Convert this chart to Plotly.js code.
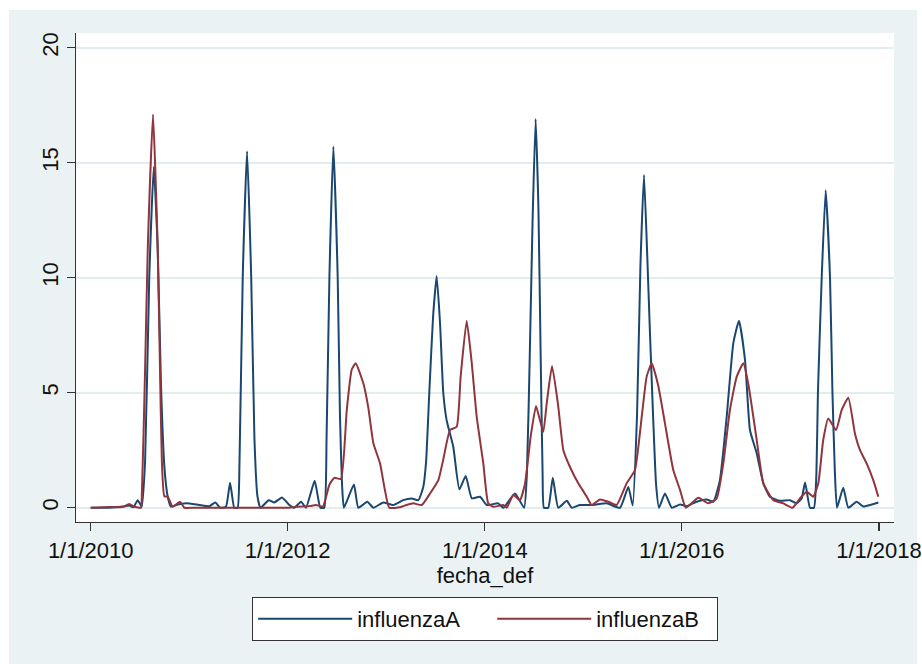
<!DOCTYPE html>
<html>
<head>
<meta charset="utf-8">
<script src="https://cdn.plot.ly/plotly-3.0.1.min.js"></script>
<style>
  html, body { margin: 0; padding: 0; background: #ffffff; }
  #chart { position: absolute; left: 9px; top: 10px; width: 913px; height: 654px; }
</style>
</head>
<body>
<div id="chart"></div>
<script>
// Weeks since 1/1/2010 and values
const weeksA = [0, 9.8, 16.9, 20.4, 22.6, 24.9, 27.0, 28.8, 31.0, 33.4, 35.5, 37.2, 39.0, 40.8, 42.5,
  45.2, 50.5, 57.5, 62.8, 66.0, 68.5, 71.6, 73.8, 76.0, 77.8, 78.8, 80.5, 82.8, 85.0, 86.7, 88.3, 89.9,
  94.3, 97.2, 101.3, 105.2, 107.8, 111.4, 114.0, 118.6, 121.6, 123.7, 124.9, 126.4, 128.5, 130.8, 132.0,
  133.1, 134.1, 139.4, 141.7, 146.5, 149.7, 154.9, 160.2, 165.5, 170.0, 173.5, 176.1, 177.6, 179.3,
  181.3, 183.2, 185.0, 186.7, 188.5, 192.0, 195.2, 198.6, 201.8, 206.2, 209.7, 215.8, 218.5, 224.7,
  229.5, 231.0, 232.6, 234.0, 235.6, 237.1, 238.2, 239.3, 240.0, 242.3, 244.7, 247.6, 252.1, 254.7,
  259.1, 266.2, 273.2, 280.3, 284.7, 287.0, 289.3, 291.1, 293.0, 294.7, 296.2, 297.8, 299.4, 300.9,
  304.1, 307.7, 312.1, 315.6, 320.9, 326.2, 329.7, 333.2, 336.8, 340.3, 343.3, 346.5, 349.1, 352.7,
  356.2, 359.7, 365.0, 370.3, 373.9, 376.5, 378.3, 380.9, 383.0, 384.3, 385.1, 387.1, 389.2, 391.5,
  392.8, 394.1, 395.2, 398.5, 401.2, 405.6, 409.1, 412.7, 417.1];
const influenzaA = [0, 0, 0.05, 0.1, 0.02, 0.33, 0.05, 2, 10, 14.83, 11.2, 5.4, 1.8, 0.48, 0.05,
  0.12, 0.19, 0.12, 0.07, 0.23, 0, 0.04, 1.09, 0, 0, 2, 10, 15.5, 10, 3, 0.5, 0,
  0.33, 0.23, 0.45, 0.12, 0, 0.26, 0, 1.17, 0, 0, 3, 10, 15.7, 10, 4,
  1, 0, 1.01, 0, 0.26, 0, 0.23, 0.12, 0.33, 0.4, 0.33, 0.9, 2, 5,
  8.3, 10.07, 8, 5, 3.8, 2.65, 0.8, 1.38, 0.41, 0.48, 0.12, 0.19, 0, 0.62,
  0, 1.5, 7, 12.5, 16.9, 13, 7, 1.5, 0, 0, 1.3, 0, 0.3, 0,
  0.12, 0.12, 0.19, 0, 0.9, 0.1, 4, 10.5, 14.47, 11, 7.5, 4, 1, 0,
  0.62, 0, 0.14, 0.07, 0.26, 0.36, 0.26, 1.2, 3.96, 7.16, 8.13, 6.42, 3.38, 2.36,
  1.06, 0.48, 0.3, 0.33, 0.19, 0.41, 1.1, 0, 0, 1.5, 5, 10, 13.8, 10,
  5, 1.5, 0, 0.87, 0, 0.26, 0.05, 0.12, 0.23];

const weeksB = [0, 9.8, 16.9, 20.4, 23.1, 26.6, 27.0, 28.8, 30.2, 33.0, 35.5, 36.7, 37.7, 39.0, 40.8,
  43.4, 47.3, 49.6, 55.0, 100.0, 105.0, 108.7, 115.8, 119.3, 122.9, 126.4, 129.0, 132.5, 135.6, 138.2, 140.3,
  144.4, 147.0, 149.7, 153.2, 155.8, 158.1, 163.8, 165.5, 170.8, 175.3, 179.7, 184.1, 186.7, 190.3,
  193.8, 195.9, 199.1, 201.8, 204.4, 207.9, 210.5, 213.2, 218.5, 220.3, 223.8, 227.3, 230.0, 233.0,
  235.8, 237.9, 239.7, 241.5, 244.3, 247.6, 250.3, 253.8, 258.2, 262.7, 265.3, 269.7, 274.1, 278.5,
  283.8, 288.2, 291.8, 294.4, 297.1, 300.6, 304.1, 308.5, 312.1, 315.2, 321.8, 327.0, 331.5, 335.0,
  338.5, 342.1, 345.6, 348.2, 352.7, 356.2, 361.5, 366.8, 371.7, 375.6, 379.2, 382.6, 385.3, 387.9,
  390.6, 394.7, 397.7, 401.2, 404.7, 407.4, 410.9, 414.4, 417.1];
const influenzaB = [0, 0.03, 0.03, 0.16, 0.04, 0, 0.3, 6, 11.2, 17.1, 11.2, 6, 2.0, 0.5, 0.48,
  0.04, 0.26, 0, 0, 0, 0, 0.04, 0.07, 0.12, 0.05, 1.0, 1.3, 1.25, 4.25, 6.0, 6.28,
  5.4, 4.35, 2.8, 1.93, 0.77, 0, 0.02, 0.07, 0.19, 0.12, 0.62, 1.2, 2.1, 3.38,
  3.52, 5.7, 8.13, 6.28, 3.96, 1.93, 0.19, 0.04, 0.12, 0, 0.55, 0.33, 1.06, 3.1,
  4.42, 3.8, 3.3, 4.55, 6.16, 4.4, 2.5, 1.77, 1.06, 0.48, 0.12, 0.36, 0.26, 0.12,
  1.06, 1.64, 3.96, 5.7, 6.28, 5.28, 3.67, 1.64, 0.77, 0, 0.43, 0.19, 0.41, 1.93,
  4.25, 5.7, 6.28, 5.4, 2.94, 1.06, 0.33, 0.19, 0, 0.41, 0.7, 0.48, 1.06, 2.94,
  3.88, 3.38, 4.25, 4.78, 3.23, 2.5, 1.93, 1.2, 0.48];

const tickDates = ['2010-01-01', '2012-01-01', '2014-01-01', '2016-01-01', '2018-01-01'];
const tickLabels = ['1/1/2010', '1/1/2012', '1/1/2014', '1/1/2016', '1/1/2018'];
const yTicks = [0, 5, 10, 15, 20];

function weekToDate(w) {
  const ms = Date.UTC(2010, 0, 1) + w * 7 * 86400000;
  return new Date(ms).toISOString().slice(0, 19).replace('T', ' ');
}

const font = { family: 'Liberation Sans, Arial, sans-serif', size: 22, color: '#111111' };

const traces = [
  { x: weeksA.map(weekToDate), y: influenzaA, type: 'scatter', mode: 'lines', name: 'influenzaA',
    legendwidth: 130, line: { color: '#1a476f', width: 2, shape: 'spline', smoothing: 0.45 } },
  { x: weeksB.map(weekToDate), y: influenzaB, type: 'scatter', mode: 'lines', name: 'influenzaB',
    legendwidth: 115, line: { color: '#90353b', width: 2, shape: 'spline', smoothing: 0.45 } }
];

const layout = {
  width: 913, height: 654,
  paper_bgcolor: '#eaf2f3', plot_bgcolor: '#ffffff',
  margin: { l: 67, r: 28, t: 23, b: 142 },
  font: font,
  showlegend: true,
  shapes: [{
    type: 'rect', xref: 'paper', yref: 'paper', layer: 'below',
    x0: 1.0281, x1: 1.05, y0: -0.5, y1: 1.5,
    fillcolor: '#ffffff', line: { width: 0 }
  }],
  xaxis: {
    type: 'date',
    range: ['2009-11-07 12:00', '2018-02-25 17:00'],
    tickmode: 'array', tickvals: tickDates, ticktext: tickLabels,
    ticks: 'outside', ticklen: 8, tickwidth: 1.3, tickcolor: '#333333',
    showline: true, linecolor: '#333333', linewidth: 1.3,
    showgrid: false, zeroline: false,
    ticklabeloverflow: 'allow',
    tickfont: font,
    title: { text: 'fecha_def', font: font, standoff: 2 }
  },
  yaxis: {
    range: [-0.62, 20.64],
    tickmode: 'array', tickvals: yTicks,
    tickangle: -90,
    ticks: 'outside', ticklen: 8, tickwidth: 1.3, tickcolor: '#333333',
    showline: true, linecolor: '#333333', linewidth: 1.3,
    showgrid: true, gridcolor: '#e3ecef', gridwidth: 2, zeroline: false,
    tickfont: font
  },
  legend: {
    orientation: 'h', x: 0.5, xanchor: 'center', y: -0.153, yanchor: 'top',
    bgcolor: '#ffffff', bordercolor: '#333333', borderwidth: 1.2,
    itemwidth: 94, font: font
  }
};

Plotly.newPlot('chart', traces, layout, { displayModeBar: false, staticPlot: true });
</script>
</body>
</html>
